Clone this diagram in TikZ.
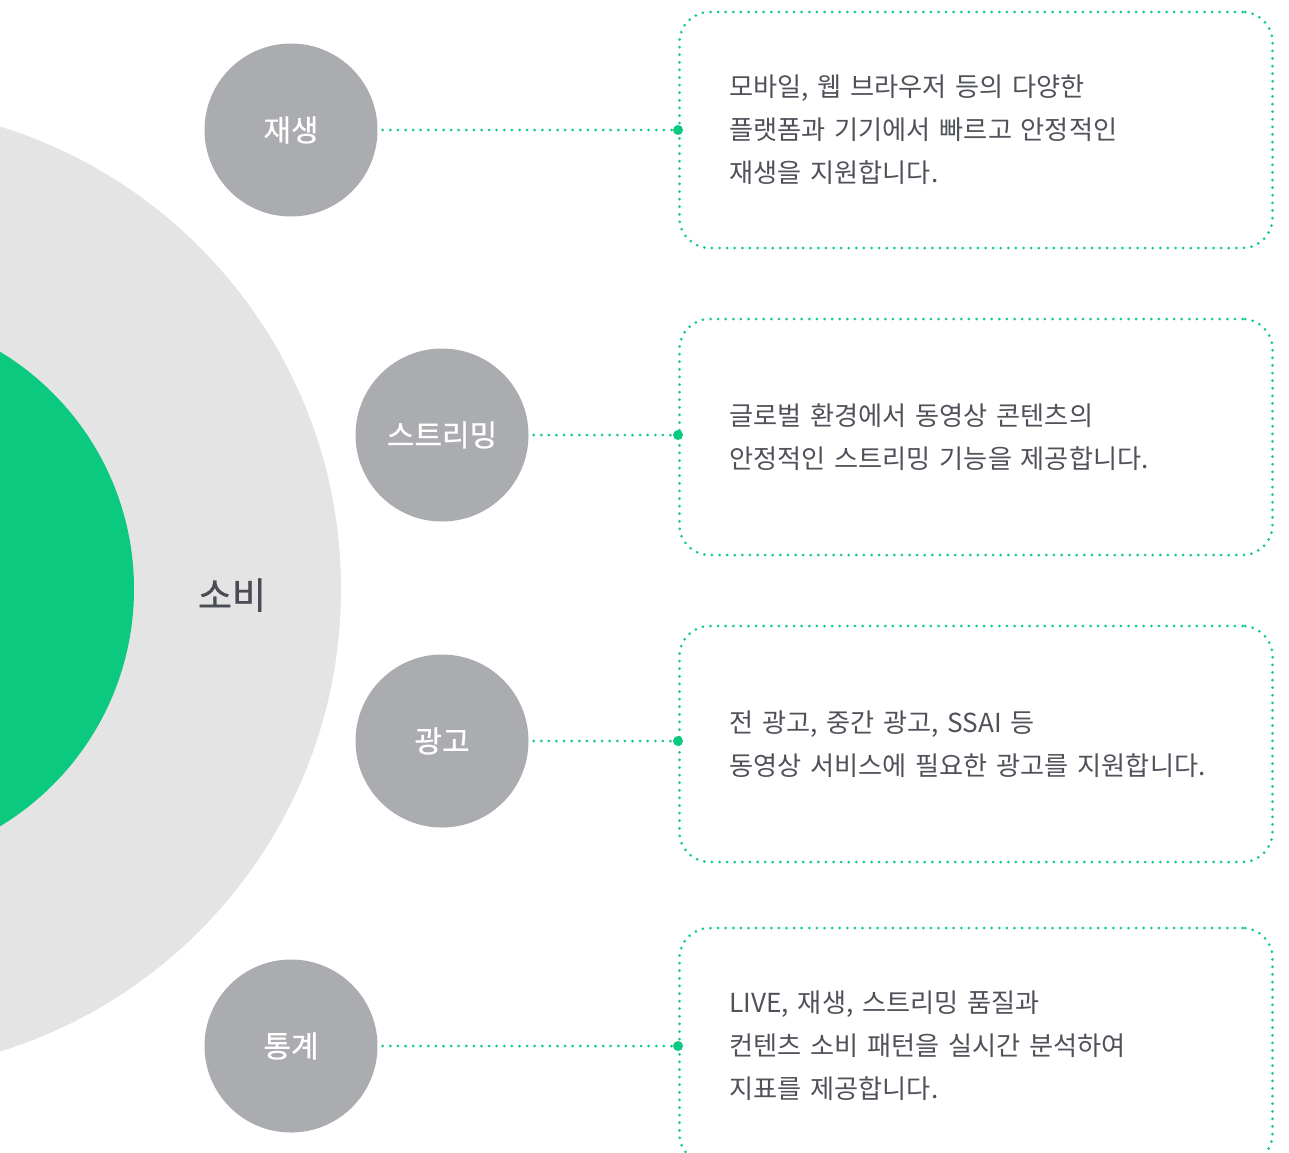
\documentclass[tikz,border=0pt]{standalone}
\usepackage{fontspec}
\setmainfont{Noto Sans CJK KR}
\newfontfamily\kr{Noto Sans CJK KR}
\newfontfamily\krm[FakeBold=0.6]{Noto Sans CJK KR}
\definecolor{bggray}{HTML}{E4E4E4}
\definecolor{brand}{HTML}{0BC97F}
\definecolor{dotgreen}{HTML}{12CC83}
\definecolor{circgray}{HTML}{AAACB0}
\definecolor{txt}{HTML}{50525A}
\definecolor{dark}{HTML}{4A4C55}
\tikzset{
  feat/.style={circle, fill=circgray, minimum size=173pt, inner sep=0pt, text=white, font=\krm\fontsize{30}{36}\selectfont},
  descbox/.style={draw=dotgreen, line width=3pt, dash pattern=on 0pt off 7.6pt, line cap=round, rounded corners=30pt,
    minimum width=593pt, minimum height=236pt, text width=493pt, inner xsep=49pt, inner ysep=0pt, align=left,
    text=txt, font=\kr\fontsize{26.2}{43}\selectfont},
  conn/.style={draw=dotgreen, line width=3pt, dash pattern=on 0pt off 7.6pt, line cap=round, shorten <=5pt},
  enddot/.style={fill=brand}
}
\begin{document}
\begin{tikzpicture}[x=1pt,y=-1pt]
\useasboundingbox (0,0) rectangle (1289,1152);
\clip (0,0) rectangle (1289,1152);
\fill[bggray] (-143,589) circle[radius=484];
\fill[brand] (-143,589) circle[radius=277];
\node[text=dark, font=\krm\fontsize{37}{40}\selectfont] (sobi) at (232,595) {소비};

\node[feat] (c1) at (291,130) {재생};
\node[feat] (c2) at (442,435) {스트리밍};
\node[feat] (c3) at (442,741) {광고};
\node[feat] (c4) at (291,1046) {통계};

\node[descbox, anchor=west] (b1) at (678,130) {모바일, 웹 브라우저 등의 다양한\\플랫폼과 기기에서 빠르고 안정적인\\재생을 지원합니다.};
\node[descbox, anchor=west] (b2) at (678,437) {글로벌 환경에서 동영상 콘텐츠의\\안정적인 스트리밍 기능을 제공합니다.};
\node[descbox, anchor=west] (b3) at (678,744) {전 광고, 중간 광고, SSAI 등\\동영상 서비스에 필요한 광고를 지원합니다.};
\node[descbox, anchor=west] (b4) at (678,1046) {LIVE, 재생, 스트리밍 품질과\\컨텐츠 소비 패턴을 실시간 분석하여\\지표를 제공합니다.};

\draw[conn] (c1.east) -- (c1.east -| b1.west);
\draw[conn] (c2.east) -- (c2.east -| b2.west);
\draw[conn] (c3.east) -- (c3.east -| b3.west);
\draw[conn] (c4.east) -- (c4.east -| b4.west);
\fill[enddot] (c1.east -| b1.west) circle[radius=5];
\fill[enddot] (c2.east -| b2.west) circle[radius=5];
\fill[enddot] (c3.east -| b3.west) circle[radius=5];
\fill[enddot] (c4.east -| b4.west) circle[radius=5];
\end{tikzpicture}
\end{document}
